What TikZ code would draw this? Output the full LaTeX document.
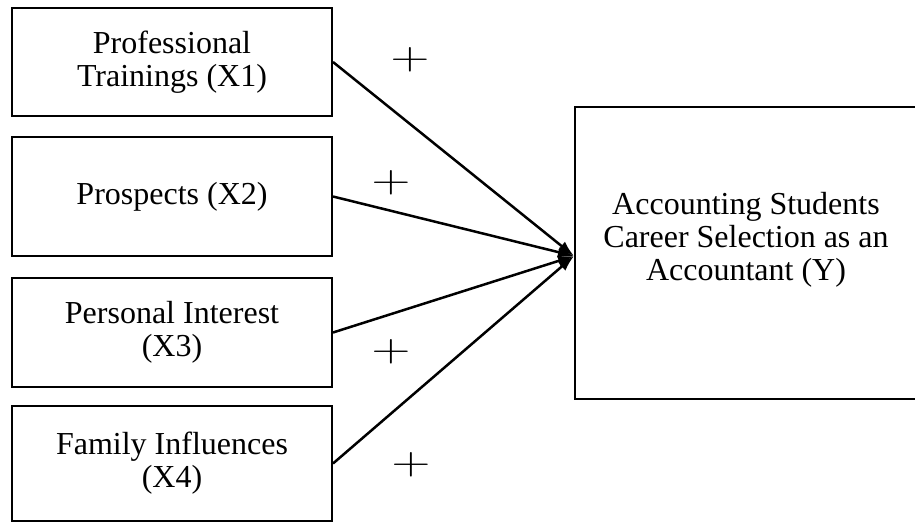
\RequirePackage{fix-cm}
\documentclass[tikz,border=0pt]{standalone}
\usepackage{fontspec}
\setmainfont{Liberation Serif}
\usetikzlibrary{calc, arrows.meta}
\tikzset{>={Latex[length=16pt,width=11pt]}}

\begin{document}
\begin{tikzpicture}[x=1pt, y=-1pt,
  varbox/.style={draw, line width=2pt, minimum width=320pt, align=center, inner sep=0pt, font=\fontsize{32}{33}\selectfont},
  sign/.style={inner sep=0pt, font=\fontsize{39}{39}\selectfont}]
\useasboundingbox (0,0) rectangle (915,522);
\node[varbox, minimum height=108pt] (trainings) at (172,62) {Professional\\Trainings (X1)};
\node[varbox, minimum height=119pt] (prospects) at (172,196.5) {Prospects (X2)};
\node[varbox, minimum height=109pt] (interest) at (172,332.5) {Personal Interest\\(X3)};
\node[varbox, minimum height=115pt] (family) at (172,463.5) {Family Influences\\(X4)};
\node[draw, line width=2pt, minimum width=380pt, minimum height=292pt] (career) at (765,253) {};
\node[align=center, font=\fontsize{32}{33}\selectfont] (careertext) at (746,240) {Accounting Students\\Career Selection as an\\Accountant (Y)};
\coordinate (tip) at ($(career.west)+(0,3)$);
\foreach \v in {trainings, prospects, interest, family}
  \draw [->, line width=2.5pt] (\v.east) -- (tip);
\node[sign] (p1) at (410,60) {\scalebox{1.38}[1]{$+$}};
\node[sign] (p2) at (391,183) {\scalebox{1.38}[1]{$+$}};
\node[sign] (p3) at (391,352) {\scalebox{1.38}[1]{$+$}};
\node[sign] (p4) at (411,465) {\scalebox{1.38}[1]{$+$}};
\end{tikzpicture}
\end{document}
